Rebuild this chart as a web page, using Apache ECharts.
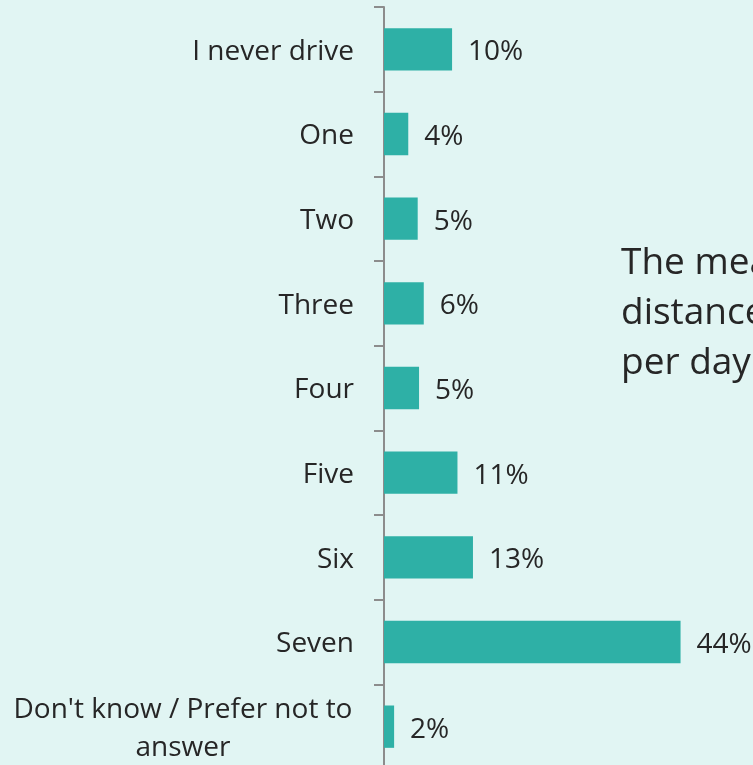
<!DOCTYPE html>
<html>
<head>
<meta charset="utf-8">
<script src="https://cdn.jsdelivr.net/npm/echarts@6/dist/echarts.min.js"></script>
<style>
  html, body { margin: 0; padding: 0; background: #e1f5f3; overflow: hidden; }
  #chart { width: 753px; height: 775px; }
</style>
</head>
<body>
<div id="chart"></div>
<script>
// categories, top to bottom
const categories = [
  'I never drive', 'One', 'Two', 'Three', 'Four',
  'Five', 'Six', 'Seven', "Don't know / Prefer not to answer"
]
// share of respondents (%)
const shares = [10.1, 3.6, 5.0, 5.9, 5.2, 10.9, 13.2, 44.0, 1.5]

const textColor = '#262626'
const fontFamily = '"Open Sans", "Noto Sans", sans-serif'

const chart = echarts.init(document.getElementById('chart'))

chart.setOption({
  backgroundColor: '#e1f5f3',
  animation: false,
  textStyle: { fontFamily: fontFamily },
  // the plot runs a little past the bottom edge of the picture
  grid: { left: 384, top: 7, width: 337, height: 762 },
  xAxis: {
    type: 'value',
    min: 0,
    max: 50,
    show: false
  },
  yAxis: {
    type: 'category',
    inverse: true,
    data: categories,
    axisLine: { show: true, lineStyle: { color: '#8c8c8c', width: 2 } },
    axisTick: { show: true, length: 10, lineStyle: { color: '#8c8c8c', width: 2 } },
    splitLine: { show: false },
    axisLabel: {
      margin: 30,
      padding: [5, 0, 0, 0],
      color: textColor,
      fontSize: 28,
      fontFamily: fontFamily,
      formatter: function (v) {
        if (v.indexOf("Don't know") === 0) {
          return "{w|Don't know / Prefer not to}\n{w|answer}"
        }
        return v
      },
      rich: {
        w: {
          width: 342,
          align: 'center',
          fontSize: 28,
          lineHeight: 38,
          color: textColor,
          fontFamily: fontFamily
        }
      }
    }
  },
  series: [
    {
      type: 'bar',
      data: shares,
      barWidth: '50%',
      itemStyle: { color: '#2eb0a6' },
      label: {
        show: true,
        position: 'right',
        distance: 16,
        offset: [0, 3],
        color: textColor,
        fontSize: 28,
        fontFamily: fontFamily,
        formatter: function (p) { return Math.round(p.value) + '%' }
      }
    }
  ],
  graphic: [
    {
      type: 'text',
      left: 621,
      top: 238,
      style: {
        text: 'The mean driving\ndistance travelled\nper day',
        fill: textColor,
        font: '37px ' + fontFamily,
        lineHeight: 50
      }
    }
  ]
})
</script>
</body>
</html>
